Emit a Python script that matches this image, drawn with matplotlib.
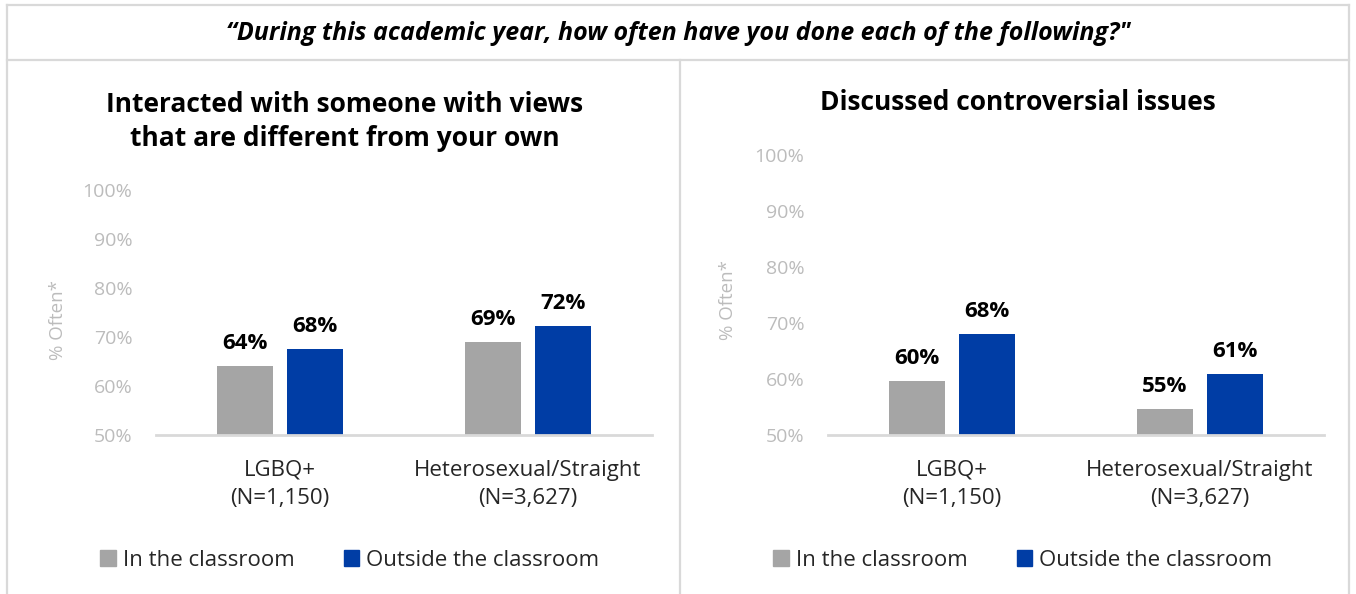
import matplotlib
matplotlib.use("Agg")
import matplotlib.pyplot as plt
from matplotlib.lines import Line2D
from matplotlib.patches import Patch
import numpy as np

plt.rcParams['font.family'] = ['Open Sans', 'DejaVu Sans']

# data
groups = ['LGBQ+\n(N=1,150)', 'Heterosexual/Straight\n(N=3,627)']
series = ['In the classroom', 'Outside the classroom']
interacted_in = [64.1, 69.0]
interacted_out = [67.6, 72.3]
discussed_in = [59.6, 54.7]
discussed_out = [68.1, 60.9]
yticks = [50, 60, 70, 80, 90, 100]

header = '\u201cDuring this academic year, how often have you done each of the following?"'
title_left = 'Interacted with someone with views\nthat are different from your own'
title_right = 'Discussed controversial issues'

GRAY = '#A5A5A5'
BLUE = '#003DA5'
TICKC = '#BCBCBC'
LINEC = '#D9D9D9'

fig = plt.figure(figsize=(13.56, 5.94), dpi=100)

ax1 = fig.add_axes([0.1150, 0.2677, 0.3658, 0.4125])
ax2 = fig.add_axes([0.6106, 0.2677, 0.3658, 0.4714])


def draw(ax, vin, vout, ylab_xy):
    x = np.arange(len(groups))
    w = 0.226
    off = 0.142
    b1 = ax.bar(x - off, vin, w, color=GRAY, label=series[0])
    b2 = ax.bar(x + off, vout, w, color=BLUE, label=series[1])
    for bars, vals in ((b1, vin), (b2, vout)):
        for b, v in zip(bars, vals):
            ax.annotate(f'{v:.0f}%', (b.get_x() + b.get_width() / 2, v),
                        xytext=(0, 8.5), textcoords='offset points',
                        ha='center', va='bottom', fontsize=16,
                        fontweight='bold', color='black')
    ax.set_xlim(-0.5, 1.5)
    ax.set_ylim(50, 100)
    ax.set_yticks(yticks)
    ax.set_yticklabels([f'{t}%' for t in yticks])
    ax.set_xticks(x)
    ax.set_xticklabels(groups, fontsize=16, linespacing=1.42)
    ax.tick_params(axis='y', length=0, pad=17, labelsize=14, labelcolor=TICKC)
    ax.tick_params(axis='x', length=0, pad=18, labelcolor='#262626')
    for s in ['top', 'right', 'left']:
        ax.spines[s].set_visible(False)
    ax.spines['bottom'].set_color(LINEC)
    ax.spines['bottom'].set_linewidth(2)
    ax.set_ylabel('% Often*', fontsize=13.5, color=TICKC)
    ax.yaxis.set_label_coords(*ylab_xy)


draw(ax1, interacted_in, interacted_out, (-0.18, 0.47))
draw(ax2, discussed_in, discussed_out, (-0.184, 0.482))

handles = [Patch(color=GRAY), Patch(color=BLUE)]
for cx in (0.2581, 0.7544):
    fig.legend(handles, series, loc='center', bbox_to_anchor=(cx, 0.0572),
               ncol=2, frameon=False, fontsize=16, handlelength=0.7,
               handleheight=0.7, handletextpad=0.32, columnspacing=2.2,
               labelcolor='#262626')

fig.text(0.5, 0.944, header, ha='center', va='center', fontsize=18,
         fontweight='bold', fontstyle='italic')
fig.text(0.2544, 0.7955, title_left, ha='center', va='center', fontsize=19,
         fontweight='bold', linespacing=1.36)
fig.text(0.7507, 0.8266, title_right, ha='center', va='center', fontsize=19,
         fontweight='bold')

# frame lines
lw = 1.6
fig.add_artist(Line2D([0.0052, 0.9948], [0.9916, 0.9916], color=LINEC, lw=lw))
fig.add_artist(Line2D([0.0052, 0.9948], [0.899, 0.899], color=LINEC, lw=lw))
fig.add_artist(Line2D([0.0052, 0.0052], [0, 0.9916], color=LINEC, lw=lw))
fig.add_artist(Line2D([0.9948, 0.9948], [0, 0.9916], color=LINEC, lw=lw))
fig.add_artist(Line2D([0.5015, 0.5015], [0, 0.899], color=LINEC, lw=lw))

fig.savefig('out.png', dpi=100)
